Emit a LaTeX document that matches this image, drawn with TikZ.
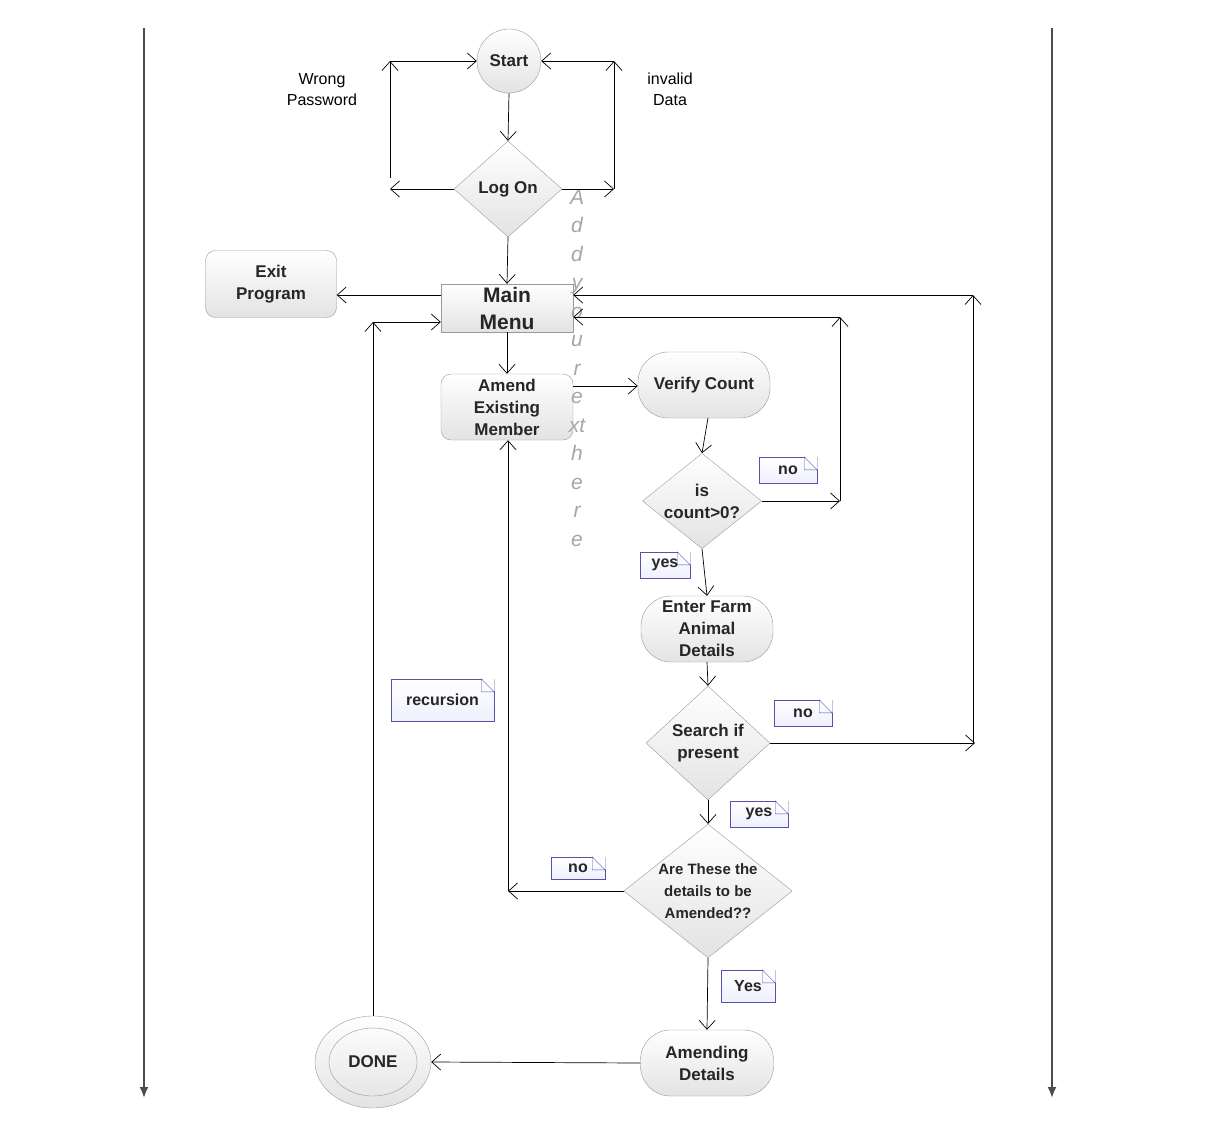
\documentclass[tikz,border=0pt]{standalone}
\usepackage{fontspec}
\setmainfont{Liberation Sans}
\usetikzlibrary{arrows.meta,shapes.geometric,calc}
\begin{document}
\begin{tikzpicture}[x=1pt,y=-1pt,
  ar/.style={-{Straight Barb[length=9pt,width=16pt]},line width=0.7pt},
  box/.style={draw=gray!80,top color=white,bottom color=gray!22,align=center,font=\fontsize{17}{22}\selectfont\bfseries,text=black!85,inner sep=1pt},
  rbox/.style={box,rounded corners=10pt,minimum width=132pt,minimum height=66pt},
  stad/.style={box,rounded corners=30pt,minimum width=132pt,minimum height=66pt},
  dia/.style={box,diamond,aspect=1.1,inner sep=0pt},
  note/.style={draw=blue!35!gray,top color=white,bottom color=blue!6,font=\fontsize{16}{18}\selectfont\bfseries,text=black!85,inner sep=0pt},
  lab/.style={align=center,font=\fontsize{16}{21}\selectfont}]
\useasboundingbox (0,0) rectangle (1229,1124);
\newcommand\fold[1]{\fill[white] ($(#1.north east)+(-13,-0.5)$) -- ($(#1.north east)+(0.5,-0.5)$) -- ($(#1.north east)+(0.5,13)$) -- cycle;
 \draw[blue!35!gray] ($(#1.north east)+(-13,0)$) -- ($(#1.north east)+(0,13)$) -- ($(#1.north east)+(-13,13)$) -- cycle;}
% side arrows
\coordinate (l1) at (144,28); \coordinate (l2) at (144,1098);
\coordinate (r1) at (1052,28); \coordinate (r2) at (1052,1098);
\draw[gray!60!black,line width=2pt,-{Latex[length=11pt,width=9pt]}] (l1)--(l2);
\draw[gray!60!black,line width=2pt,-{Latex[length=11pt,width=9pt]}] (r1)--(r2);
% nodes
\node[box,circle,minimum size=64pt] (start) at (509,61) {Start};
\node[dia,minimum width=108pt,minimum height=96pt] (log) at (508,189) {Log On};
\node[box,minimum width=132pt,minimum height=48pt,font=\fontsize{21}{27}\selectfont\bfseries] (main) at (507,308) {Main\\Menu};
\node[rbox,minimum width=131pt,minimum height=67pt] (exit) at (271,284) {Exit\\Program};
\node[rbox] (amend) at (507,407) {Amend\\Existing\\Member};
\node[stad] (verify) at (704,385) {Verify Count};
\node[dia,minimum width=112pt,minimum height=90pt,aspect=1.25] (cnt) at (702,501) {is\\count>0?};
\node[stad] (enter) at (707,629) {Enter Farm\\Animal\\Details};
\node[dia,minimum width=124pt,minimum height=114pt] (search) at (708,743) {Search if\\present};
\node[dia,minimum width=165pt,minimum height=131pt,aspect=1.26,font=\fontsize{15}{22}\selectfont\bfseries] (are) at (708,891) {Are These the\\details to be\\Amended??};
\node[stad,minimum width=133pt] (amending) at (707,1063) {Amending\\Details};
\node[box,ellipse,minimum width=116pt,minimum height=92pt] (done) at (373,1062) {};
\node[draw=gray!80,ellipse,minimum width=88pt,minimum height=68pt,font=\fontsize{17}{22}\selectfont\bfseries,text=black!85] (donei) at (373,1062) {DONE};
% labels
\node[lab] (wp) at (322,90) {Wrong\\Password};
\node[lab] (inv) at (670,89) {invalid\\Data};
\node[align=center,text=gray!70,font=\fontsize{21}{28.5}\selectfont\itshape] (wm) at (577,368) {A\\d\\d\\y\\o\\u\\r\\e\\xt\\h\\e\\r\\e};
% notes
\node[note,minimum width=58pt,minimum height=26pt] (n1) at (788,470) {no}; \fold{n1}
\node[note,minimum width=50pt,minimum height=26pt] (n2) at (665,565) {yes}; \fold{n2}
\node[note,minimum width=103pt,minimum height=42pt] (n3) at (442.5,700) {recursion}; \fold{n3}
\node[note,minimum width=58pt,minimum height=26pt] (n4) at (803,713) {no}; \fold{n4}
\node[note,minimum width=58pt,minimum height=26pt] (n5) at (759,814) {yes}; \fold{n5}
\node[note,minimum width=54pt,minimum height=22pt] (n6) at (578,868) {no}; \fold{n6}
\node[note,minimum width=54pt,minimum height=32pt] (n7) at (748,986) {Yes}; \fold{n7}
% coordinates
\coordinate (a1) at (390,189); \coordinate (a2) at (390,178); \coordinate (a3) at (390,61);
\coordinate (b1) at (614,189); \coordinate (b2) at (614,61);
\coordinate (c1) at (840,501); \coordinate (c2) at (840,317);
\coordinate (d1) at (975,743); \coordinate (d2) at (973,743); \coordinate (d3) at (973,295);
\coordinate (e1) at (508,891); \coordinate (f1) at (373,322);
% connectors
\draw[ar] (start.south) -- (log.north);
\draw[ar] (log.west) -- (a1);
\draw[ar] (a2) -- (a3);
\draw[ar] (a3) -- (start.west);
\draw[ar] (log.east) -- (b1);
\draw[ar] (b1) -- (b2);
\draw[ar] (b2) -- (start.east);
\draw[ar] (log.south) -- (main.north);
\draw[ar] (main.west |- 0,295) -- (exit.east |- 0,295);
\draw[ar] (main.south) -- (amend.north);
\draw[ar] (amend.east |- 0,386) -- (verify.west |- 0,386);
\draw[ar] (708,418) -- (cnt.north);
\draw[ar] (cnt.east) -- (c1);
\draw[ar] (c1) -- (c2);
\draw[ar] (c2) -- (main.east |- c2);
\draw[ar] (cnt.south) -- (enter.north);
\draw[ar] (enter.south) -- (search.north);
\draw[ar] (search.east) -- (d1);
\draw[ar] (d2) -- (d3);
\draw[ar] (d3) -- (main.east |- d3);
\draw[ar] (search.south) -- (are.north);
\draw[ar] (are.west) -- (e1);
\draw[ar] (e1) -- (amend.south -| e1);
\draw[ar] (are.south) -- (amending.north);
\draw[ar] (amending.west) -- (done.east);
\draw[ar] (done.north) -- (f1);
\draw[ar] (f1) -- (main.west |- f1);
\end{tikzpicture}
\end{document}
